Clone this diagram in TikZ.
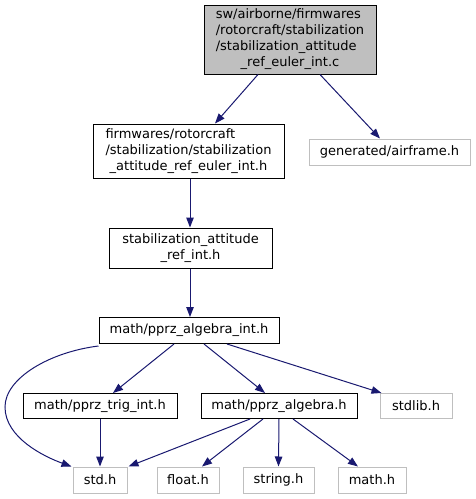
\documentclass[tikz,border=0pt]{standalone}
\usepackage{fontspec}
\setmainfont{DejaVu Sans}
\usetikzlibrary{arrows.meta}
\definecolor{edgeblue}{HTML}{191970}
\definecolor{missgray}{HTML}{BFBFBF}
\begin{document}
\begin{tikzpicture}[x=1pt,y=-1pt,
  box/.style={draw=black,line width=1pt,inner sep=0pt,align=center,font=\fontsize{13}{16}\selectfont},
  miss/.style={box,draw=missgray},
  edge/.style={draw=edgeblue,line width=1pt,-{Triangle[length=10pt,width=7.5pt]}}]
\useasboundingbox (0,0) rectangle (475,499);
\node[box,fill=missgray,minimum width=172pt,minimum height=69pt] (top) at (290,39.5)
  {\begin{tabular}{@{}l@{}}sw/airborne/firmwares\\/rotorcraft/stabilization\\/stabilization\_attitude\\\multicolumn{1}{@{}c@{}}{\_ref\_euler\_int.c}\end{tabular}};
\node[box,minimum width=191pt,minimum height=54pt] (n2) at (188.5,151)
  {\begin{tabular}{@{}l@{}}firmwares/rotorcraft\\/stabilization/stabilization\\\multicolumn{1}{@{}c@{}}{\_attitude\_ref\_euler\_int.h}\end{tabular}};
\node[miss,minimum width=161pt,minimum height=26pt] (gen) at (389.5,152) {generated/airframe.h};
\node[box,minimum width=163pt,minimum height=40pt] (ref) at (190.5,248)
  {\begin{tabular}{@{}c@{}}stabilization\_attitude\\\_ref\_int.h\end{tabular}};
\node[box,minimum width=180pt,minimum height=26pt] (algint) at (189,330.5) {math/pprz\_algebra\_int.h};
\node[box,minimum width=154pt,minimum height=25pt] (trig) at (100,406) {math/pprz\_trig\_int.h};
\node[box,minimum width=156pt,minimum height=25pt] (alg) at (279,406) {math/pprz\_algebra.h};
\node[miss,minimum width=72pt,minimum height=25pt] (stdlib) at (416,406) {stdlib.h};
\node[miss,minimum width=54pt,minimum height=26pt] (std) at (100,480) {std.h};
\node[miss,minimum width=62pt,minimum height=26pt] (float) at (188,480) {float.h};
\node[miss,minimum width=71pt,minimum height=26pt] (string) at (278.5,480) {string.h};
\node[miss,minimum width=68pt,minimum height=26pt] (math) at (372,480) {math.h};

\draw[edge] ([xshift=-32pt]top.south) -- ([xshift=26.5pt]n2.north);
\draw[edge] ([xshift=30pt]top.south) -- ([xshift=-9.5pt]gen.north);
\draw[edge] ([xshift=1.5pt]n2.south) -- ([xshift=-0.5pt]ref.north);
\draw[edge] ([xshift=-0.5pt]ref.south) -- ([xshift=1pt]algint.north);
\draw[edge] ([xshift=-15pt]algint.south) -- ([xshift=13pt]trig.north);
\draw[edge] ([xshift=15pt]algint.south) -- ([xshift=-14pt]alg.north);
\draw[edge] ([xshift=38pt]algint.south) -- ([xshift=2pt]stdlib.north west);
\draw[edge] ([yshift=-2pt]algint.south west) .. controls (50,352) and (5,378) .. (5,407)
  .. controls (5,438) and (45,457) .. ([xshift=-1pt]std.north west);
\draw[edge] (trig.south) -- (std.north);
\draw[edge] ([xshift=-29pt]alg.south) -- ([xshift=1pt]std.north east);
\draw[edge] ([xshift=-16pt]alg.south) -- ([xshift=14pt]float.north);
\draw[edge] (alg.south) -- (string.north);
\draw[edge] ([xshift=14pt]alg.south) -- ([xshift=-14pt]math.north);
\end{tikzpicture}
\end{document}
